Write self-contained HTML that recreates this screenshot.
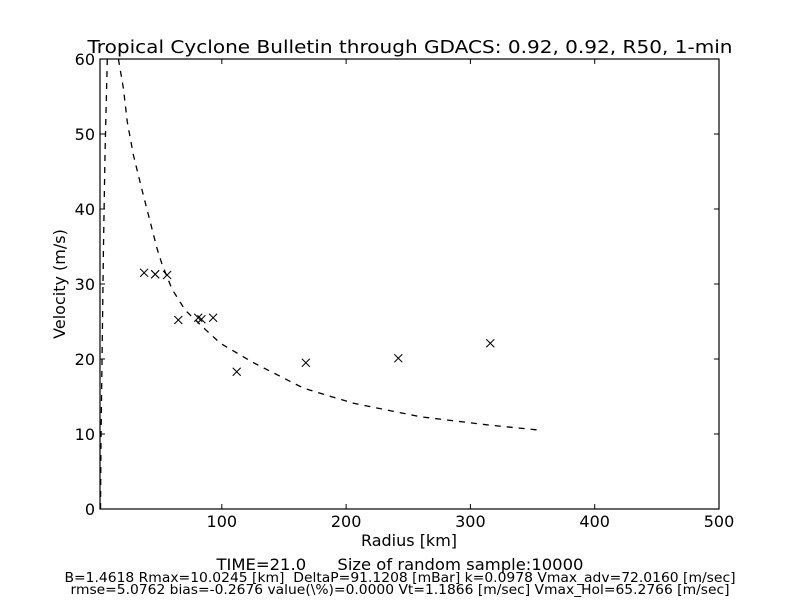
<!DOCTYPE html>
<html><head><meta charset="utf-8"><style>
body{margin:0;background:#fff}
svg{display:block;font-family:"DejaVu Sans","Liberation Sans",sans-serif}
</style></head><body>
<svg id="chart" width="800" height="600" viewBox="0 0 800 600" xmlns="http://www.w3.org/2000/svg">
<rect width="800" height="600" fill="#fff"/>
<text x="410" y="53" font-size="18" text-anchor="middle" textLength="645" lengthAdjust="spacingAndGlyphs">Tropical Cyclone Bulletin through GDACS: 0.92, 0.92, R50, 1-min</text>
<g id="marks"></g>
<rect x="100" y="59" width="619" height="450" fill="none" stroke="#000" stroke-width="1.2"/>
<g id="axes"></g>
<text x="409" y="546" font-size="16" text-anchor="middle">Radius [km]</text>
<text transform="translate(65,284) rotate(-90)" font-size="16" text-anchor="middle">Velocity (m/s)</text>
<text x="400" y="570" font-size="16" text-anchor="middle" textLength="367" lengthAdjust="spacingAndGlyphs">TIME=21.0&#160;&#160;&#160;&#160;&#160; Size of random sample:10000</text>
<text x="400" y="582" font-size="13" text-anchor="middle" textLength="671" lengthAdjust="spacingAndGlyphs">B=1.4618 Rmax=10.0245 [km]&#160; DeltaP=91.1208 [mBar] k=0.0978 Vmax_adv=72.0160 [m/sec]</text>
<text x="400" y="594" font-size="13" text-anchor="middle" textLength="659" lengthAdjust="spacingAndGlyphs">rmse=5.0762 bias=-0.2676 value(\%)=0.0000 Vt=1.1866 [m/sec] Vmax_Hol=65.2766 [m/sec]</text>
</svg>
<script>
const xTicks=[100,200,300,400,500];
const xTickLabels=["100","200","300","400","500"];
const yTicks=[0,10,20,30,40,50,60];
const yTickLabels=["0","10","20","30","40","50","60"];
const obsRadius=[37.5,46.4,46.4,56,65,81,83.6,93,112,167.6,242,316];
const obsVelocity=[31.5,31.3,31.3,31.2,25.2,25.5,25.3,25.5,18.3,19.5,20.1,22.1];
const curveLeftRadius=[2.4,2.8,4.7,6,7.9];
const curveLeftVelocity=[0,9.2,34.3,47.2,60];
const curveRightRadius=[16.8,20.8,24,28.9,35.7,42.4,47.8,52,60,70.6,87,98.9,125.6,166,206,260,314.5,357];
const curveRightVelocity=[60,56.1,51.6,47.2,42.6,38.3,34.8,32.6,29.3,26.5,23.9,22.1,19.5,16.1,14.1,12.3,11.2,10.5];
const X0=2,X1=500,Y0=0,Y1=60,L=100,R=719,T=59,B=509;
const sx=v=>L+(v-X0)*(R-L)/(X1-X0);
const sy=v=>B-(v-Y0)*(B-T)/(Y1-Y0);
const NS="http://www.w3.org/2000/svg";
const marks=document.getElementById('marks'),axes=document.getElementById('axes');
function mk(tag,attrs,parent){const e=document.createElementNS(NS,tag);for(const k in attrs)e.setAttribute(k,attrs[k]);parent.appendChild(e);return e;}
xTicks.forEach((t,i)=>{
  const x=sx(t);
  const a=mk('line',{x1:x,x2:x,y1:B,y2:B-5,stroke:'#000'},axes);
  
  
  const b=mk('line',{x1:x,x2:x,y1:T,y2:T+5,stroke:'#000'},axes);
  
  
  const tx=mk('text',{x:x,y:B+18,'font-size':16,'text-anchor':'middle'},axes);
  tx.textContent=xTickLabels[i];
  
  
});
yTicks.forEach((t,i)=>{
  const y=sy(t);
  const a=mk('line',{x1:L,x2:L+5,y1:y,y2:y,stroke:'#000'},axes);
  
  
  const b=mk('line',{x1:R,x2:R-5,y1:y,y2:y,stroke:'#000'},axes);
  
  
  const tx=mk('text',{x:L-5,y:y+6,'font-size':16,'text-anchor':'end'},axes);
  tx.textContent=yTickLabels[i];
  
  
});
function curve(rs,vs,name){
  const d=rs.map((r,i)=>(i?'L':'M')+sx(r).toFixed(1)+','+sy(vs[i]).toFixed(1)).join(' ');
  const p=mk('path',{d:d,fill:'none',stroke:'#000','stroke-width':1.3,'stroke-dasharray':'6,6','stroke-linejoin':'round'},marks);
  
  
}
curve(curveLeftRadius,curveLeftVelocity,'model-curve-inner');
curve(curveRightRadius,curveRightVelocity,'model-curve-outer');
obsRadius.forEach((r,i)=>{
  const x=sx(r),y=sy(obsVelocity[i]),s=4;
  const p=mk('path',{d:`M${x-s},${y-s}L${x+s},${y+s}M${x-s},${y+s}L${x+s},${y-s}`,stroke:'#000','stroke-width':1},marks);
  
  
});
</script>
</body></html>
